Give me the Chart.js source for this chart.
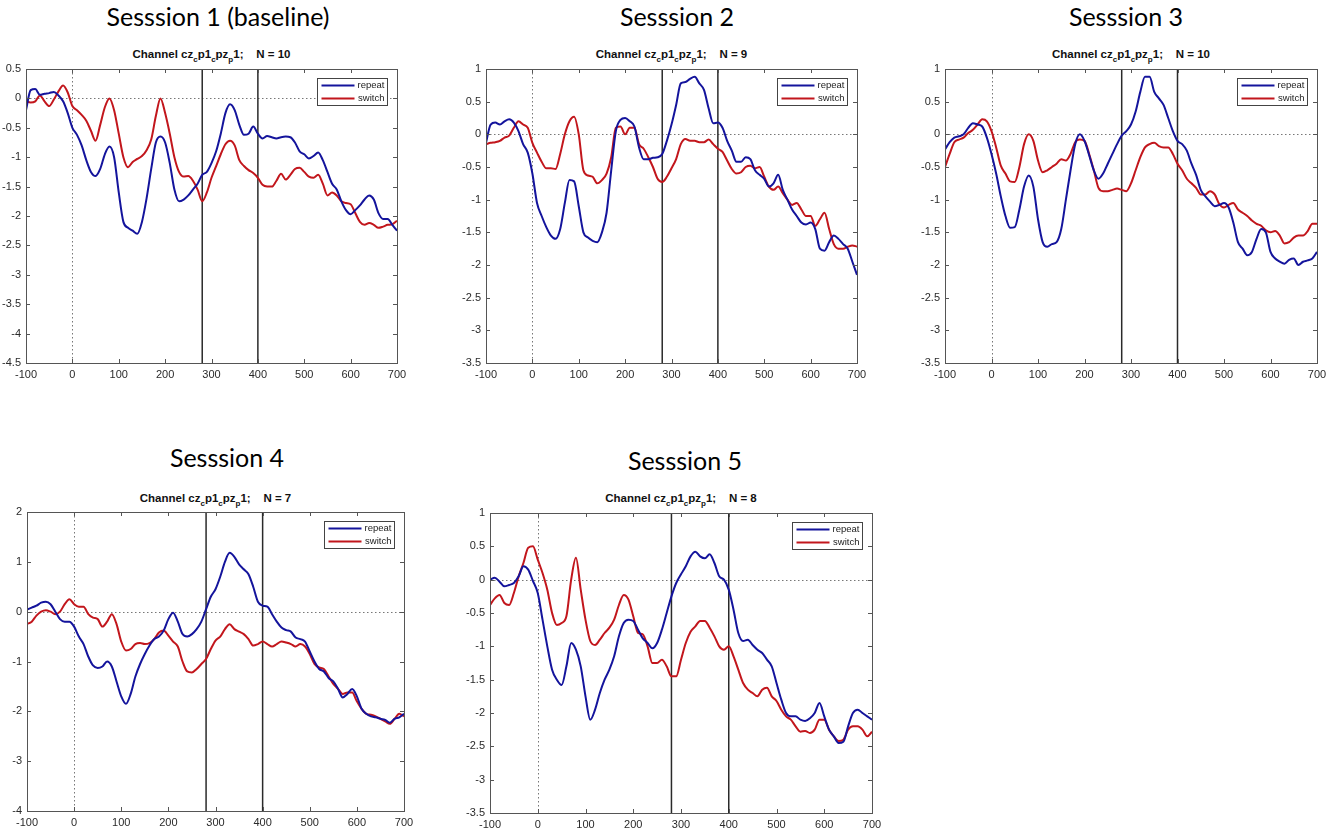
<!DOCTYPE html>
<html>
<head>
<meta charset="utf-8">
<script src="https://cdn.jsdelivr.net/npm/chart.js@4.4.0/dist/chart.umd.min.js"></script>
<style>
  html, body { margin: 0; padding: 0; background: #fff; }
  body { width: 1328px; height: 833px; position: relative; overflow: hidden; font-family: "Liberation Sans", Arial, sans-serif; }
  .session { position: absolute; font-family: Lato, "Open Sans", sans-serif; font-size: 25px; color: #000; transform: translateX(-50%); white-space: nowrap; line-height: 30px; }
  .chan { position: absolute; font-weight: bold; font-size: 11.5px; color: #111; transform: translateX(-50%); white-space: pre; line-height: 14px; }
  .chan sub { font-size: 8px; vertical-align: -4px; line-height: 0; }
  .panel { position: absolute; }
</style>
</head>
<body>
<script>
// time axis (ms) and ERP amplitudes
var timeMs = [-100, -90, -80, -70, -60, -50, -40, -30, -20, -10,
  0, 10, 20, 30, 40, 50, 60, 70, 80, 90,
  100, 110, 120, 130, 140, 150, 160, 170, 180, 190,
  200, 210, 220, 230, 240, 250, 260, 270, 280, 290,
  300, 310, 320, 330, 340, 350, 360, 370, 380, 390,
  400, 410, 420, 430, 440, 450, 460, 470, 480, 490,
  500, 510, 520, 530, 540, 550, 560, 570, 580, 590,
  600, 610, 620, 630, 640, 650, 660, 670, 680, 690,
  700];

var s1Repeat = [-0.2, 0.14, 0.16, 0.06, 0.08, 0.09, 0.11, 0.05, -0.05, -0.25,
  -0.5, -0.62, -0.8, -1.05, -1.25, -1.32, -1.2, -0.95, -0.82, -1.0,
  -1.6, -2.1, -2.2, -2.25, -2.3, -2.1, -1.7, -1.2, -0.75, -0.65,
  -0.75, -1.1, -1.55, -1.75, -1.72, -1.65, -1.55, -1.45, -1.3, -1.25,
  -1.1, -0.9, -0.6, -0.25, -0.1, -0.2, -0.45, -0.62, -0.6, -0.48,
  -0.6, -0.68, -0.64, -0.66, -0.68, -0.66, -0.65, -0.66, -0.75, -0.9,
  -0.95, -1.02, -0.98, -0.92, -1.05, -1.25, -1.45, -1.55, -1.75, -1.9,
  -1.97, -1.9, -1.82, -1.72, -1.65, -1.72, -1.95, -2.05, -2.05, -2.15,
  -2.25];
var s1Switch = [-0.05, -0.07, -0.05, 0.05, -0.05, -0.13, -0.02, 0.12, 0.22, 0.1,
  -0.13, -0.2, -0.28, -0.38, -0.55, -0.72, -0.45, -0.15, 0.0, -0.2,
  -0.6, -1.0, -1.17, -1.08, -1.03, -0.98, -0.88, -0.7, -0.3, 0.0,
  -0.25, -0.6, -1.0, -1.25, -1.33, -1.32, -1.4, -1.55, -1.75, -1.6,
  -1.35, -1.15, -0.95, -0.78, -0.72, -0.8, -1.05, -1.15, -1.22, -1.27,
  -1.35, -1.47, -1.5, -1.5, -1.4, -1.28, -1.38, -1.3, -1.2, -1.18,
  -1.25, -1.33, -1.35, -1.3, -1.45, -1.65, -1.6, -1.65, -1.75, -1.78,
  -1.8, -1.95, -2.1, -2.15, -2.12, -2.15, -2.2, -2.18, -2.15, -2.14,
  -2.08];

var s2Repeat = [-0.13, 0.15, 0.18, 0.15, 0.2, 0.23, 0.18, 0.05, -0.15, -0.28,
  -0.6, -1.05, -1.25, -1.42, -1.55, -1.6, -1.45, -1.05, -0.7, -0.72,
  -1.1, -1.5, -1.58, -1.63, -1.65, -1.5, -1.2, -0.55, 0.05, 0.22,
  0.25, 0.2, 0.12, -0.2, -0.38, -0.38, -0.36, -0.35, -0.3, -0.1,
  0.15, 0.45, 0.78, 0.8, 0.85, 0.88, 0.78, 0.68, 0.4, 0.17,
  0.18, 0.1, -0.1, -0.25, -0.42, -0.42, -0.35, -0.38, -0.55, -0.62,
  -0.68, -0.8, -0.75, -0.62, -0.85, -1.0, -1.15, -1.25, -1.35, -1.38,
  -1.35, -1.45, -1.75, -1.78, -1.65, -1.55, -1.6, -1.68, -1.75, -1.95,
  -2.15];
var s2Switch = [-0.15, -0.13, -0.12, -0.1, -0.05, -0.02, 0.1, 0.2, 0.15, 0.1,
  -0.13, -0.28, -0.42, -0.52, -0.52, -0.53, -0.3, 0.0, 0.2, 0.27,
  0.0, -0.55, -0.63, -0.65, -0.75, -0.7, -0.6, -0.35, 0.1, 0.12,
  0.0, 0.1, 0.1, -0.15, -0.22, -0.35, -0.5, -0.68, -0.73, -0.65,
  -0.52, -0.38, -0.15, -0.07, -0.1, -0.1, -0.12, -0.12, -0.08, -0.15,
  -0.22, -0.27, -0.4, -0.53, -0.6, -0.58, -0.5, -0.48, -0.52, -0.5,
  -0.65, -0.8, -0.85, -0.8, -0.9, -1.0, -1.08, -1.05, -1.15, -1.25,
  -1.25, -1.4, -1.3, -1.2, -1.45, -1.68, -1.75, -1.75, -1.72, -1.7,
  -1.72];

var s3Repeat = [-0.23, -0.12, -0.05, -0.03, 0.0, 0.1, 0.17, 0.15, 0.12, -0.05,
  -0.3, -0.6, -0.95, -1.25, -1.43, -1.42, -1.15, -0.8, -0.63, -0.8,
  -1.3, -1.65, -1.72, -1.68, -1.65, -1.45, -1.0, -0.55, -0.15, 0.0,
  -0.1, -0.32, -0.55, -0.68, -0.6, -0.45, -0.3, -0.15, -0.02, 0.05,
  0.15, 0.35, 0.65, 0.88, 0.88, 0.65, 0.55, 0.45, 0.25, 0.05,
  -0.1, -0.15, -0.25, -0.45, -0.62, -0.85, -0.95, -1.03, -1.1, -1.08,
  -1.05, -1.12, -1.35, -1.65, -1.75, -1.85, -1.8, -1.6, -1.45, -1.5,
  -1.8, -1.9, -1.95, -1.98, -1.92, -1.9, -2.0, -1.95, -1.93, -1.9,
  -1.8];
var s3Switch = [-0.5, -0.3, -0.12, -0.08, -0.05, 0.02, 0.07, 0.15, 0.23, 0.2,
  0.05, -0.2, -0.48, -0.6, -0.72, -0.73, -0.5, -0.15, 0.0, -0.1,
  -0.4, -0.58, -0.55, -0.5, -0.45, -0.38, -0.4, -0.3, -0.12, -0.08,
  -0.1, -0.3, -0.55, -0.82, -0.87, -0.87, -0.85, -0.83, -0.85, -0.87,
  -0.75, -0.55, -0.35, -0.2, -0.15, -0.13, -0.18, -0.2, -0.2, -0.3,
  -0.45, -0.55, -0.68, -0.75, -0.82, -0.92, -0.92, -0.87, -0.92, -1.07,
  -1.12, -1.08, -1.05, -1.15, -1.2, -1.25, -1.32, -1.37, -1.4, -1.47,
  -1.5, -1.48, -1.55, -1.67, -1.65, -1.58, -1.55, -1.55, -1.48, -1.37,
  -1.37];

var s4Repeat = [0.04, 0.08, 0.12, 0.18, 0.2, 0.15, 0.0, -0.15, -0.2, -0.2,
  -0.3, -0.5, -0.65, -0.9, -1.08, -1.13, -1.1, -1.0, -1.1, -1.4,
  -1.7, -1.85, -1.65, -1.3, -1.05, -0.85, -0.68, -0.55, -0.5, -0.38,
  -0.15, -0.02, -0.2, -0.45, -0.5, -0.45, -0.35, -0.2, 0.05, 0.3,
  0.45, 0.7, 1.0, 1.18, 1.1, 0.95, 0.85, 0.75, 0.5, 0.2,
  0.12, 0.1, -0.05, -0.2, -0.32, -0.37, -0.4, -0.52, -0.55, -0.6,
  -0.8, -1.0, -1.15, -1.2, -1.33, -1.4, -1.55, -1.72, -1.65, -1.55,
  -1.7, -1.95, -2.05, -2.1, -2.12, -2.15, -2.17, -2.23, -2.15, -2.12,
  -2.05];
var s4Switch = [-0.25, -0.2, -0.08, 0.0, 0.03, 0.0, -0.05, 0.0, 0.15, 0.25,
  0.15, 0.1, 0.1, -0.05, -0.12, -0.15, -0.3, -0.2, -0.05, -0.25,
  -0.6, -0.78, -0.75, -0.65, -0.63, -0.65, -0.63, -0.55, -0.42, -0.38,
  -0.48, -0.6, -0.7, -1.0, -1.2, -1.22, -1.15, -1.05, -0.95, -0.75,
  -0.58, -0.5, -0.35, -0.25, -0.35, -0.4, -0.45, -0.55, -0.68, -0.65,
  -0.6, -0.65, -0.7, -0.65, -0.6, -0.62, -0.65, -0.7, -0.65, -0.7,
  -0.85, -1.05, -1.12, -1.15, -1.3, -1.45, -1.55, -1.65, -1.62, -1.62,
  -1.8, -1.95, -2.05, -2.07, -2.1, -2.15, -2.2, -2.25, -2.15, -2.05,
  -2.1];

var s5Repeat = [0.0, 0.03, -0.03, -0.1, -0.08, -0.05, 0.05, 0.2, 0.15, -0.02,
  -0.2, -0.6, -1.0, -1.35, -1.5, -1.58, -1.3, -0.95, -1.05, -1.3,
  -1.75, -2.1, -1.95, -1.7, -1.5, -1.35, -1.15, -0.85, -0.65, -0.6,
  -0.62, -0.75, -0.88, -0.95, -1.03, -0.95, -0.75, -0.5, -0.25, -0.05,
  0.08, 0.2, 0.35, 0.42, 0.35, 0.32, 0.38, 0.25, 0.05, 0.0,
  -0.15, -0.45, -0.8, -0.92, -0.9, -0.98, -1.05, -1.1, -1.2, -1.3,
  -1.55, -1.8, -2.0, -2.05, -2.05, -2.1, -2.12, -2.08, -2.0, -1.85,
  -2.05, -2.25, -2.35, -2.45, -2.43, -2.2, -2.0, -1.95, -2.0, -2.05,
  -2.1];
var s5Switch = [-0.38, -0.28, -0.23, -0.35, -0.38, -0.2, 0.05, 0.25, 0.48, 0.5,
  0.3, 0.1, -0.15, -0.5, -0.68, -0.65, -0.55, 0.0, 0.33, -0.15,
  -0.6, -0.92, -0.98, -0.9, -0.8, -0.72, -0.6, -0.38, -0.23, -0.3,
  -0.55, -0.8, -0.82, -1.0, -1.25, -1.25, -1.2, -1.3, -1.45, -1.45,
  -1.2, -0.95, -0.78, -0.7, -0.62, -0.62, -0.72, -0.85, -1.0, -1.05,
  -1.0, -1.15, -1.35, -1.55, -1.65, -1.7, -1.75, -1.65, -1.62, -1.75,
  -1.82, -1.95, -2.05, -2.1, -2.2, -2.28, -2.27, -2.3, -2.25, -2.1,
  -2.1, -2.25, -2.35, -2.42, -2.4, -2.25, -2.2, -2.2, -2.25, -2.35,
  -2.28];

var seriesLabels = ['repeat', 'switch'];
var sessionTitles = ['Sesssion 1 (baseline)', 'Sesssion 2', 'Sesssion 3', 'Sesssion 4', 'Sesssion 5'];
var sessionN = [10, 9, 10, 7, 8];
var repeatSeries = [s1Repeat, s2Repeat, s3Repeat, s4Repeat, s5Repeat];
var switchSeries = [s1Switch, s2Switch, s3Switch, s4Switch, s5Switch];
var yMin = [-4.5, -3.5, -3.5, -4, -3.5];
var yMax = [0.5, 1, 1, 2, 1];
var yStep = [0.5, 0.5, 0.5, 1, 0.5];
var xTicksMin = -100, xTicksMax = 700, xStep = 100;
var windowMarks = [280, 400];

// layout of each panel (plot area in page pixels)
var layout = [
  { left: 26, top: 69, w: 371, h: 294, titleX: 218, titleY: 16, chanY: 55 },
  { left: 486, top: 69, w: 371, h: 294, titleX: 677, titleY: 16, chanY: 55 },
  { left: 945, top: 69, w: 372, h: 294, titleX: 1126, titleY: 16, chanY: 55 },
  { left: 27, top: 512, w: 377, h: 299, titleX: 227, titleY: 457, chanY: 499 },
  { left: 490, top: 513, w: 382, h: 300, titleX: 685, titleY: 460, chanY: 499 }
];
var lineColors = ['#14149c', '#c2161c'];
var AXIS_W = 40, PAD_T = 22, PAD_R = 16, AXIS_H = 22;

function line(ctx, x1, y1, x2, y2) {
  ctx.beginPath();
  ctx.moveTo(x1, y1);
  ctx.lineTo(x2, y2);
  ctx.stroke();
}

// MATLAB-like frame, inward ticks, zero lines, window lines and legend
var matlabLook = {
  id: 'matlabLook',
  beforeDatasetsDraw: function (chart) {
    var ctx = chart.ctx, a = chart.chartArea;
    var xs = chart.scales.x, ys = chart.scales.y;
    ctx.save();
    ctx.strokeStyle = '#777';
    ctx.lineWidth = 1;
    ctx.setLineDash([1.5, 2.5]);
    var y0 = Math.round(ys.getPixelForValue(0)) + 0.5;
    line(ctx, a.left, y0, a.right, y0);
    var x0 = Math.round(xs.getPixelForValue(0)) + 0.5;
    line(ctx, x0, a.top, x0, a.bottom);
    ctx.setLineDash([]);
    ctx.strokeStyle = '#2a2a2a';
    ctx.lineWidth = 1.5;
    windowMarks.forEach(function (t) {
      var px = xs.getPixelForValue(t);
      line(ctx, px, a.top, px, a.bottom);
    });
    ctx.restore();
  },
  afterDraw: function (chart) {
    var ctx = chart.ctx, a = chart.chartArea;
    var xs = chart.scales.x, ys = chart.scales.y;
    ctx.save();
    ctx.strokeStyle = '#555';
    ctx.lineWidth = 1;
    ctx.strokeRect(Math.round(a.left) + 0.5, Math.round(a.top) + 0.5,
      Math.round(a.right - a.left), Math.round(a.bottom - a.top));
    var tl = 4;
    xs.ticks.forEach(function (t) {
      var px = Math.round(xs.getPixelForValue(t.value)) + 0.5;
      line(ctx, px, a.bottom, px, a.bottom - tl);
      line(ctx, px, a.top, px, a.top + tl);
    });
    ys.ticks.forEach(function (t) {
      var py = Math.round(ys.getPixelForValue(t.value)) + 0.5;
      line(ctx, a.left, py, a.left + tl, py);
      line(ctx, a.right, py, a.right - tl, py);
    });
    // legend box in the upper right corner
    var bw = 70, bh = 27;
    var bx = Math.round(a.right - 10 - bw) + 0.5, by = Math.round(a.top + 9) + 0.5;
    ctx.fillStyle = '#fff';
    ctx.fillRect(bx, by, bw, bh);
    ctx.strokeStyle = '#444';
    ctx.strokeRect(bx, by, bw, bh);
    ctx.font = '9.5px "Liberation Sans", Arial, sans-serif';
    ctx.textAlign = 'right';
    ctx.textBaseline = 'middle';
    chart.data.datasets.forEach(function (ds, i) {
      var ly = by + 7 + i * 13;
      ctx.strokeStyle = ds.borderColor;
      ctx.lineWidth = 2;
      line(ctx, bx + 4, ly, bx + 37, ly);
      ctx.fillStyle = '#222';
      ctx.fillText(ds.label, bx + bw - 3, ly);
    });
    ctx.restore();
  }
};

function toPoints(values) {
  return values.map(function (v, i) { return { x: timeMs[i], y: v }; });
}

function tickText(value) {
  return String(Math.round(value * 100) / 100);
}

function buildPanel(k) {
  var p = layout[k];
  var title = document.createElement('div');
  title.className = 'session';
  title.style.left = p.titleX + 'px';
  title.style.top = (p.titleY - 15) + 'px';
  title.textContent = sessionTitles[k];
  document.body.appendChild(title);

  var chan = document.createElement('div');
  chan.className = 'chan';
  chan.style.left = (p.left + p.w / 2) + 'px';
  chan.style.top = (p.chanY - 8) + 'px';
  chan.innerHTML = 'Channel cz<sub>c</sub>p1<sub>c</sub>pz<sub>p</sub>1;    N = ' + sessionN[k];
  document.body.appendChild(chan);

  var box = document.createElement('div');
  box.className = 'panel';
  box.style.left = (p.left - AXIS_W) + 'px';
  box.style.top = (p.top - PAD_T) + 'px';
  box.style.width = (p.w + AXIS_W + PAD_R) + 'px';
  box.style.height = (p.h + PAD_T + AXIS_H) + 'px';
  var canvas = document.createElement('canvas');
  box.appendChild(canvas);
  document.body.appendChild(box);

  var tickFont = { family: '"Liberation Sans", Arial, sans-serif', size: 11 };
  new Chart(canvas, {
    type: 'line',
    data: {
      datasets: [
        { label: seriesLabels[0], data: toPoints(repeatSeries[k]), borderColor: lineColors[0], borderWidth: 2,
          pointRadius: 0, fill: false, cubicInterpolationMode: 'monotone' },
        { label: seriesLabels[1], data: toPoints(switchSeries[k]), borderColor: lineColors[1], borderWidth: 2,
          pointRadius: 0, fill: false, cubicInterpolationMode: 'monotone' }
      ]
    },
    options: {
      responsive: true,
      maintainAspectRatio: false,
      animation: false,
      layout: { padding: { top: PAD_T, right: PAD_R, left: 0, bottom: 0 } },
      plugins: { legend: { display: false }, tooltip: { enabled: false }, title: { display: false } },
      scales: {
        x: {
          type: 'linear', min: xTicksMin, max: xTicksMax,
          ticks: { stepSize: xStep, padding: 5, color: '#2a2a2a', font: tickFont, maxRotation: 0, autoSkip: false,
            callback: tickText },
          grid: { display: false, drawTicks: false },
          border: { display: false },
          afterFit: function (s) { s.height = AXIS_H; }
        },
        y: {
          min: yMin[k], max: yMax[k],
          ticks: { stepSize: yStep[k], padding: 5, color: '#2a2a2a', font: tickFont, callback: tickText },
          grid: { display: false, drawTicks: false },
          border: { display: false },
          afterFit: function (s) { s.width = AXIS_W; }
        }
      }
    },
    plugins: [matlabLook]
  });
}

for (var k = 0; k < layout.length; k++) {
  buildPanel(k);
}
</script>
</body>
</html>
